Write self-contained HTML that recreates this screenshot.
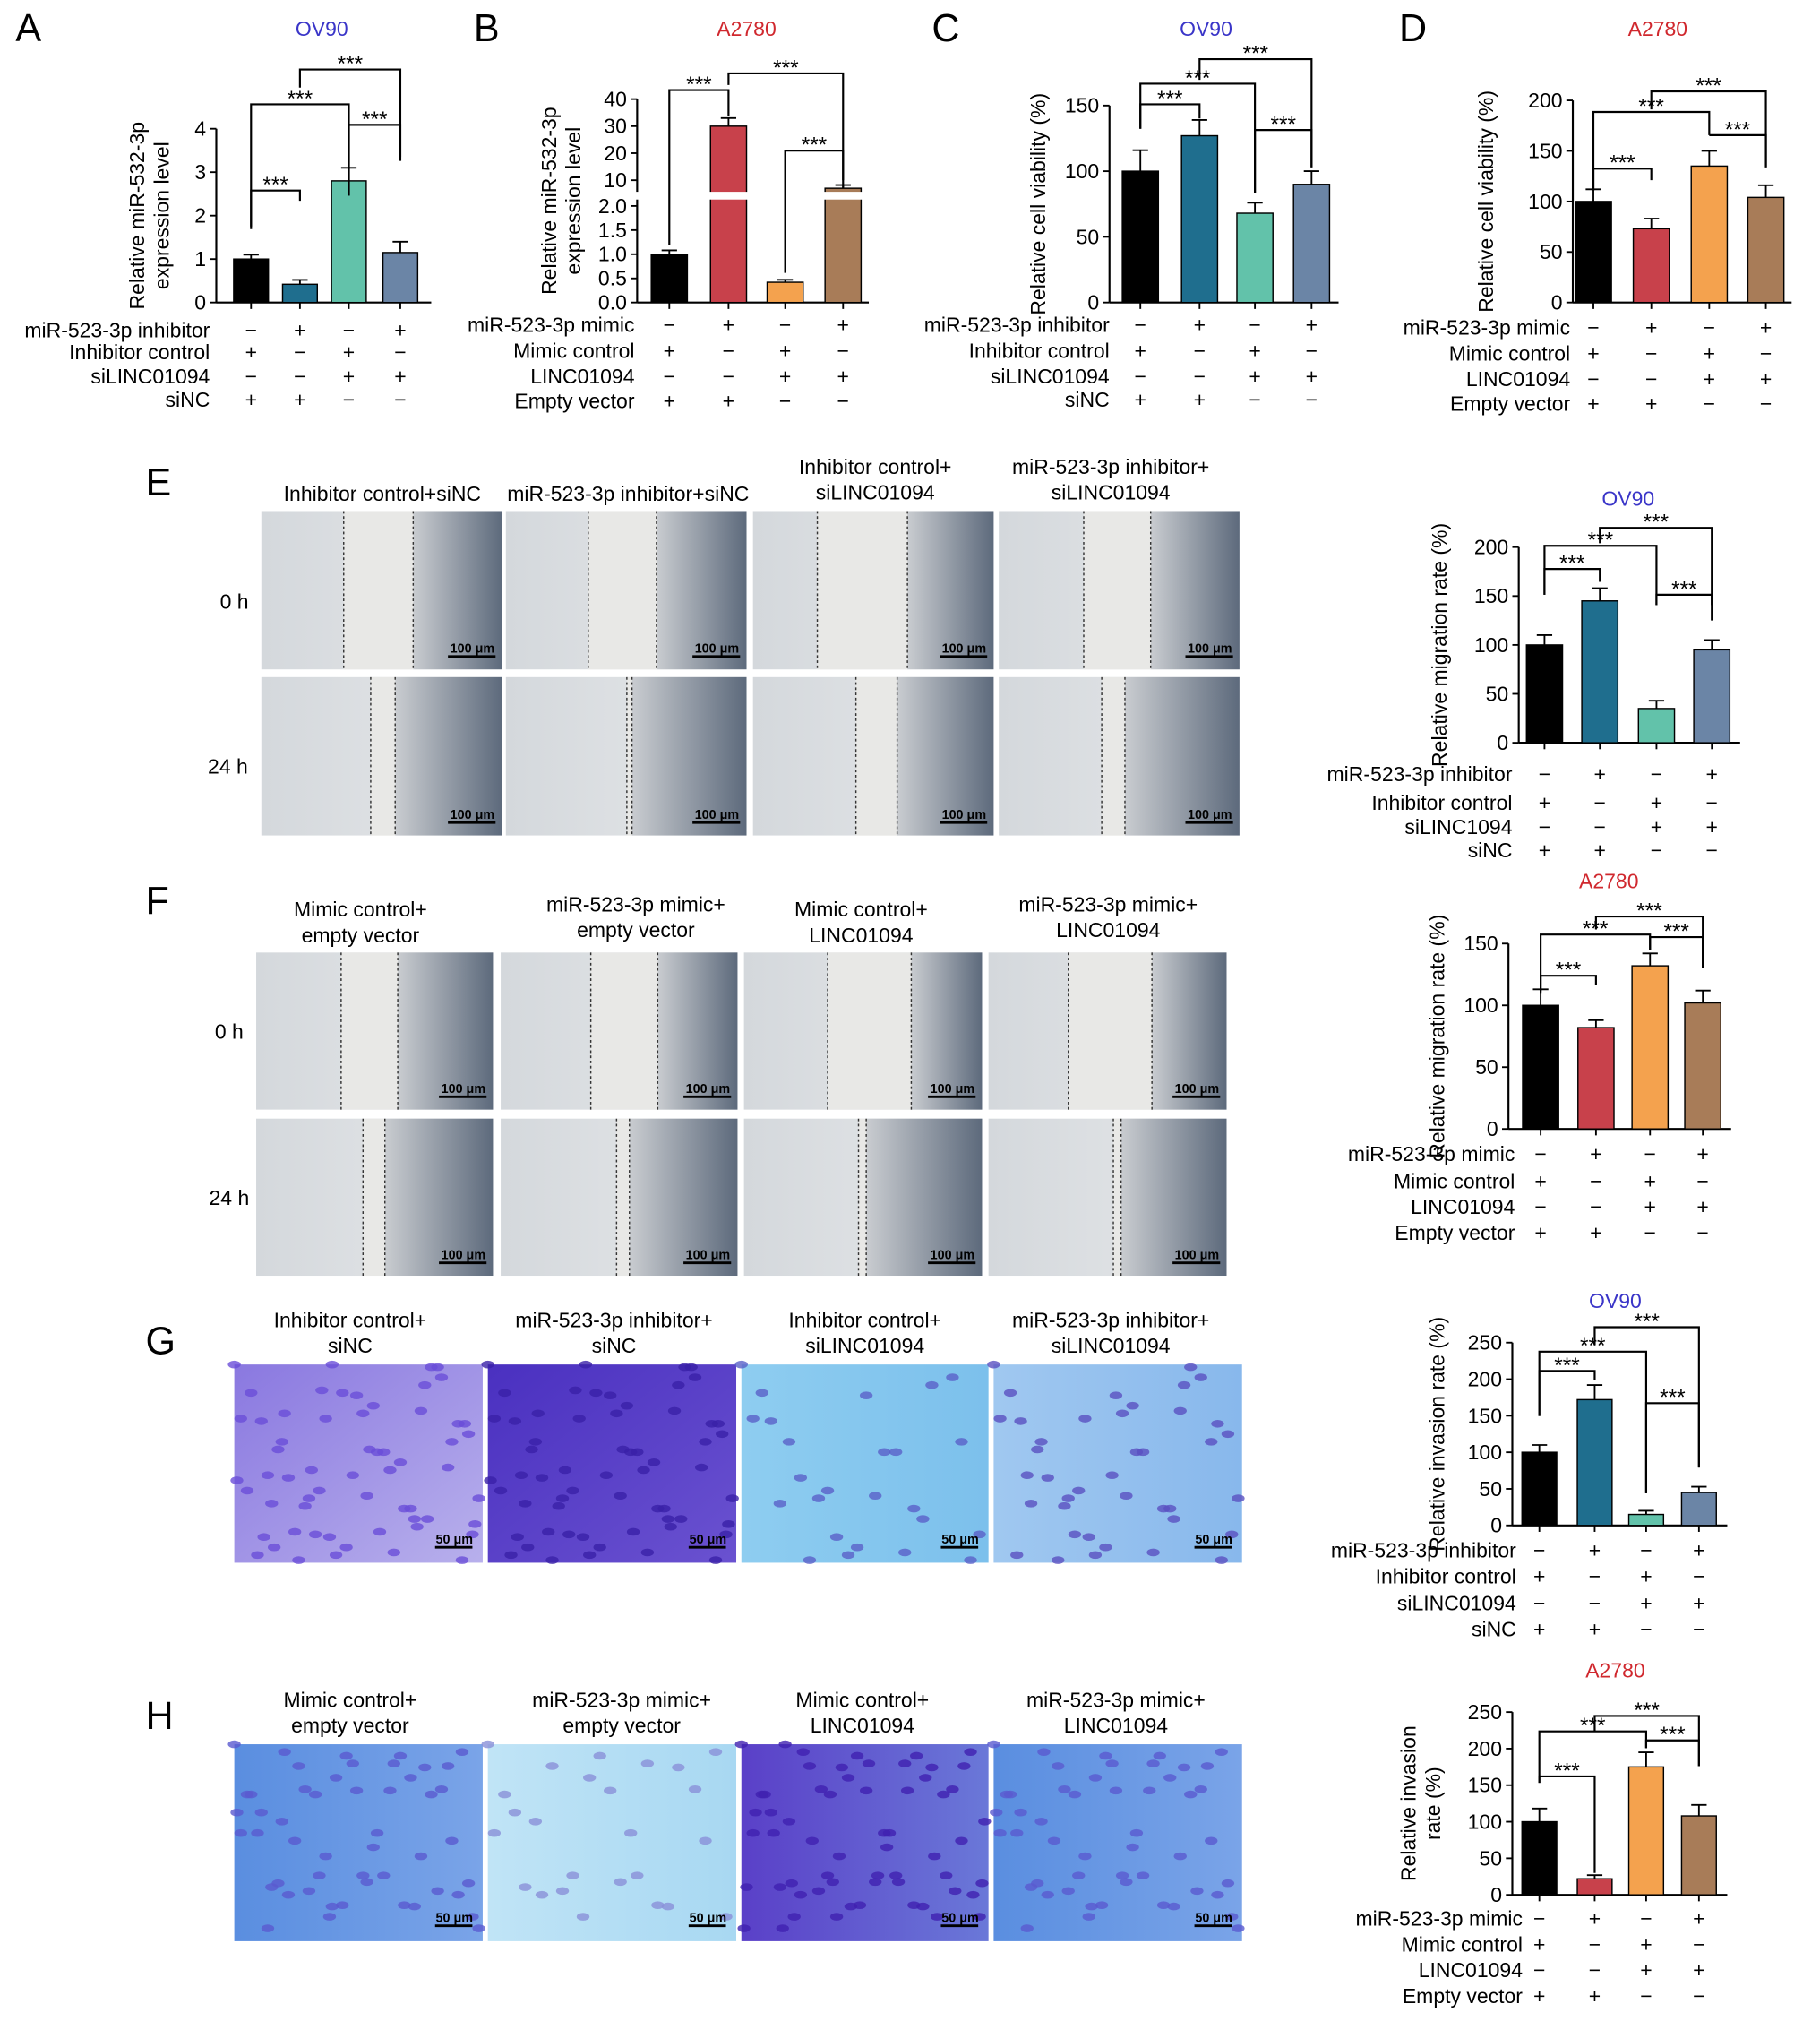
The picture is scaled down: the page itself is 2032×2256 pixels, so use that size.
<!DOCTYPE html>
<html><head><meta charset="utf-8"><style>
html,body{margin:0;padding:0;background:#fff;}
svg{display:block;font-family:"Liberation Sans",Arial,sans-serif;}
</style></head><body>
<svg id="fig" width="2032" height="2256" viewBox="0 0 1414 1570" xmlns="http://www.w3.org/2000/svg">
<defs>
<linearGradient id="gScratchR" x1="0" x2="1"><stop offset="0" stop-color="#c9ccd0"/><stop offset="1" stop-color="#5d6a7c"/></linearGradient>
<linearGradient id="gScratchL" x1="0" x2="1"><stop offset="0" stop-color="#d4d8dc"/><stop offset="1" stop-color="#e6e8ea"/></linearGradient>
<linearGradient id="gPurple" x1="0" x2="1" y1="0" y2="1"><stop offset="0" stop-color="#8a78e0"/><stop offset="1" stop-color="#b8b0ec"/></linearGradient>
<linearGradient id="gDense" x1="0" x2="1" y1="0" y2="1"><stop offset="0" stop-color="#4a30c0"/><stop offset="1" stop-color="#6a52d0"/></linearGradient>
<linearGradient id="gBlue" x1="0" x2="1"><stop offset="0" stop-color="#8ecdf0"/><stop offset="1" stop-color="#7cc0ec"/></linearGradient>
<linearGradient id="gBlue2" x1="0" x2="1"><stop offset="0" stop-color="#a0c8f0"/><stop offset="1" stop-color="#88b8ec"/></linearGradient>
<linearGradient id="gPale" x1="0" x2="1"><stop offset="0" stop-color="#c0e4f6"/><stop offset="1" stop-color="#a8d8f2"/></linearGradient>
<linearGradient id="gBlueP" x1="0" x2="1"><stop offset="0" stop-color="#5a8ee0"/><stop offset="1" stop-color="#7aa4e8"/></linearGradient>
<linearGradient id="gMix" x1="0" x2="1"><stop offset="0" stop-color="#5a40c8"/><stop offset="1" stop-color="#6a78d8"/></linearGradient>
</defs>
<g id="root"></g>
</svg>
<script>
const aCats=["g1","g2","g3","g4"];
const aVals=[1.0,0.42,2.8,1.15];
const aErr=[0.1,0.1,0.3,0.25];
const aTicks=[0,1,2,3,4];
const bVals=[1.0,30,0.42,7.5];
const bErr=[0.08,3,0.05,1.0];
const bTicks=[0.0,0.5,1.0,1.5,2.0,10,20,30,40];
const bTickLabels=["0.0","0.5","1.0","1.5","2.0","10","20","30","40"];
const cVals=[100,127,68,90];
const cErr=[16,12,8,10];
const cTicks=[0,50,100,150];
const dVals=[100,73,135,104];
const dErr=[12,10,15,12];
const dTicks=[0,50,100,150,200];
const eVals=[100,145,35,95];
const eErr=[10,13,8,10];
const eTicks=[0,50,100,150,200];
const fVals=[100,82,132,102];
const fErr=[13,6,10,10];
const fTicks=[0,50,100,150];
const gVals=[100,172,15,45];
const gErr=[10,20,5,8];
const gTicks=[0,50,100,150,200,250];
const hVals=[100,22,175,108];
const hErr=[18,5,20,15];
const hTicks=[0,50,100,150,200,250];
const condInhib=[["miR-523-3p inhibitor",["−","+","−","+"]],["Inhibitor control",["+","−","+","−"]],["siLINC01094",["−","−","+","+"]],["siNC",["+","+","−","−"]]];
const condInhibE=[["miR-523-3p inhibitor",["−","+","−","+"]],["Inhibitor control",["+","−","+","−"]],["siLINC1094",["−","−","+","+"]],["siNC",["+","+","−","−"]]];
const condMimic=[["miR-523-3p mimic",["−","+","−","+"]],["Mimic control",["+","−","+","−"]],["LINC01094",["−","−","+","+"]],["Empty vector",["+","+","−","−"]]];
const colInhib=["#000000","#1f6e8e","#62c2aa","#6b85a6"];
const colMimic=["#000000","#c8414b","#f4a24e","#a87c58"];

const NS="http://www.w3.org/2000/svg";
const root=document.getElementById('root');
function mk(tag,attrs,parent,text){const e=document.createElementNS(NS,tag);for(const k in attrs)e.setAttribute(k,attrs[k]);if(text!==undefined)e.textContent=text;(parent||root).appendChild(e);return e;}

function chart(o){
  const g=mk('g',{});
  
  
  const y=o.scale;
  const t=mk('text',{x:o.titleX,y:o.titleY,'font-size':16,fill:o.titleColor,'text-anchor':'middle'},g,o.title);
  
  
  const top=y(o.ticks[o.ticks.length-1]);
  const ax=mk('line',{x1:o.ax,x2:o.ax,y1:top,y2:o.zero,stroke:'#000','stroke-width':1.5},g);
  
  
  mk('line',{x1:o.ax,x2:o.xEnd,y1:o.zero,y2:o.zero,stroke:'#000','stroke-width':1.5},g);
  o.ticks.forEach((v,i)=>{
    const yy=y(v);
    mk('line',{x1:o.ax-5,x2:o.ax,y1:yy,y2:yy,stroke:'#000','stroke-width':1.3},g);
    const tl=mk('text',{x:o.ax-8,y:yy+5.5,'font-size':16,'text-anchor':'end'},g,o.tickLabels?o.tickLabels[i]:String(v));
    
    
  });
  const yl=mk('text',{transform:`translate(${o.ylx},${(top+o.zero)/2}) rotate(-90)`,'font-size':16,'text-anchor':'middle'},g);
  o.ylabel.forEach((s,i)=>{mk('tspan',{x:0,dy:i?19:0},yl,s);});
  
  
  o.vals.forEach((v,i)=>{
    const cx=o.xs[i],w=o.bw;
    const yt=y(v);
    const b=mk('rect',{x:cx-w/2,y:yt,width:w,height:o.zero-yt,fill:o.colors[i],stroke:'#000','stroke-width':1},g);
    
    
    const ye=y(v+o.err[i]);
    mk('line',{x1:cx,x2:cx,y1:yt,y2:ye,stroke:'#000','stroke-width':1.3},g);
    mk('line',{x1:cx-6,x2:cx+6,y1:ye,y2:ye,stroke:'#000','stroke-width':1.3},g);
    mk('line',{x1:cx,x2:cx,y1:o.zero,y2:o.zero+5,stroke:'#000','stroke-width':1.3},g);
  });
  if(o.gap){mk('rect',{x:o.xs[1]-o.bw/2-1,y:o.gap[0],width:o.bw+2,height:o.gap[1]-o.gap[0],fill:'#fff'},g);
    mk('rect',{x:o.xs[3]-o.bw/2-1,y:o.gap[0],width:o.bw+2,height:o.gap[1]-o.gap[0],fill:'#fff'},g);
    mk('rect',{x:o.ax-3,y:o.gap[0],width:6,height:o.gap[1]-o.gap[0],fill:'#fff'},g);}
  o.brackets.forEach(br=>{
    const [i,j,yt,yi,yj]=br; const xi=o.xs[i],xj=o.xs[j];
    const p=mk('path',{d:`M${xi},${yi}V${yt}H${xj}V${yj}`,fill:'none',stroke:'#000','stroke-width':1.5},g);
    
    
    mk('text',{x:(xi+xj)/2,y:yt+1,'font-size':17,'text-anchor':'middle'},g,'***');
  });
  o.cond.forEach((row,r)=>{
    const yy=o.rows[r];
    const l=mk('text',{x:o.labX,y:yy,'font-size':16,'text-anchor':'end'},g,row[0]);
    
    
    row[1].forEach((s,i)=>{mk('text',{x:o.xs[i],y:yy,'font-size':16,'text-anchor':'middle'},g,s);});
  });
}
function lin(zero,topPx,topVal){return v=>zero-(v/topVal)*(zero-topPx);}

chart({name:'chart-a',title:'OV90',titleX:250,titleY:28,titleColor:'#3a35c8',ax:168,xEnd:335,zero:235,scale:lin(235,100,4),ticks:aTicks,
 vals:aVals,err:aErr,xs:[195,233,271,311],bw:27,colors:colInhib,ylabel:['Relative miR-532-3p','expression level'],ylx:112,
 brackets:[[0,1,148,178,156],[0,2,81,176,152],[2,3,97,152,122],[1,3,54,68,125]],cond:condInhib,rows:[262,279,298,316],labX:163});
const bScale=v=>{const P=[[0,235],[2,160],[10,140],[40,77]];for(let k=1;k<P.length;k++){if(v<=P[k][0]){const[a,ya]=P[k-1],[b,yb]=P[k];return ya+(v-a)/(b-a)*(yb-ya);}}return 77;};
chart({name:'chart-b',title:'A2780',titleX:580,titleY:28,titleColor:'#d0282e',ax:495,xEnd:675,zero:235,scale:bScale,ticks:bTicks,tickLabels:bTickLabels,
 vals:bVals,err:bErr,xs:[520,566,610,655],bw:28,colors:colMimic,ylabel:['Relative miR-532-3p','expression level'],ylx:432,gap:[149,155],
 brackets:[[0,1,70,190,90],[1,3,57,66,140],[2,3,117,212,146]],cond:condMimic,rows:[258,278,298,317],labX:493});
chart({name:'chart-c',title:'OV90',titleX:937,titleY:28,titleColor:'#3a35c8',ax:862,xEnd:1040,zero:235,scale:lin(235,82,150),ticks:cTicks,
 vals:cVals,err:cErr,xs:[886,932,975,1019],bw:28,colors:colInhib,ylabel:['Relative cell viability (%)'],ylx:812,
 brackets:[[0,1,81,100,92],[0,2,65,100,150],[2,3,101,150,130],[1,3,46,62,130]],cond:condInhib,rows:[258,278,298,316],labX:862});
chart({name:'chart-d',title:'A2780',titleX:1288,titleY:28,titleColor:'#d0282e',ax:1222,xEnd:1392,zero:235,scale:lin(235,78,200),ticks:dTicks,
 vals:dVals,err:dErr,xs:[1238,1283,1328,1372],bw:28,colors:colMimic,ylabel:['Relative cell viability (%)'],ylx:1160,
 brackets:[[0,1,131,148,140],[0,2,87,148,105],[2,3,105,105,130],[1,3,71,85,130]],cond:condMimic,rows:[260,280,300,319],labX:1220});
chart({name:'chart-e',title:'OV90',titleX:1265,titleY:393,titleColor:'#3a35c8',ax:1180,xEnd:1352,zero:577,scale:lin(577,425,200),ticks:eTicks,
 vals:eVals,err:eErr,xs:[1200,1243,1287,1330],bw:28,colors:colInhib,ylabel:['Relative migration rate (%)'],ylx:1124,
 brackets:[[0,1,442,462,452],[0,2,424,462,470],[2,3,462,470,482],[1,3,410,422,470]],cond:condInhibE,rows:[607,629,648,666],labX:1175});
chart({name:'chart-f',title:'A2780',titleX:1250,titleY:690,titleColor:'#d0282e',ax:1172,xEnd:1345,zero:877,scale:lin(877,733,150),ticks:fTicks,
 vals:fVals,err:fErr,xs:[1197,1240,1282,1323],bw:28,colors:colMimic,ylabel:['Relative migration rate (%)'],ylx:1122,
 brackets:[[0,1,758,772,765],[0,2,726,770,738],[2,3,728,738,752],[1,3,712,722,752]],cond:condMimic,rows:[902,923,943,963],labX:1177});
chart({name:'chart-g',title:'OV90',titleX:1255,titleY:1016,titleColor:'#3a35c8',ax:1175,xEnd:1342,zero:1185,scale:lin(1185,1043,250),ticks:gTicks,
 vals:gVals,err:gErr,xs:[1196,1239,1279,1320],bw:27,colors:colInhib,ylabel:['Relative invasion rate (%)'],ylx:1122,
 brackets:[[0,1,1065,1100,1072],[0,2,1050,1100,1160],[2,3,1090,1160,1140],[1,3,1031,1045,1140]],cond:condInhib,rows:[1210,1230,1251,1271],labX:1178});
chart({name:'chart-h',title:'A2780',titleX:1255,titleY:1303,titleColor:'#d0282e',ax:1175,xEnd:1342,zero:1472,scale:lin(1472,1330,250),ticks:hTicks,
 vals:hVals,err:hErr,xs:[1196,1239,1279,1320],bw:27,colors:colMimic,ylabel:['Relative invasion','rate (%)'],ylx:1100,
 brackets:[[0,1,1380,1385,1455],[0,2,1345,1385,1358],[2,3,1352,1358,1372],[1,3,1333,1345,1372]],cond:condMimic,rows:[1496,1516,1536,1556],labX:1183});

[['A',12,32],['B',368,32],['C',724,32],['D',1087,32],['E',113,385],['F',113,710],['G',113,1052],['H',113,1343]].forEach(p=>{
  const t=mk('text',{x:p[1],y:p[2],'font-size':30},root,p[0]);
  
  
});

function labelText(x,y,lines){lines.forEach((s,i)=>{const t=mk('text',{x:x,y:y+i*20,'font-size':16,'text-anchor':'middle'},root,s);
  
  });}
function scratch(x,y,w,h,l1,l2){
  const g=mk('g',{});
  
  
  mk('rect',{x:x,y:y,width:w,height:h,fill:'url(#gScratchL)'},g);
  mk('rect',{x:x+l2,y:y,width:w-l2,height:h,fill:'url(#gScratchR)'},g);
  mk('rect',{x:x+l1,y:y,width:l2-l1,height:h,fill:'#e8e8e6'},g);
  mk('line',{x1:x+l1,x2:x+l1,y1:y,y2:y+h,stroke:'#333','stroke-dasharray':'2,2'},g);
  mk('line',{x1:x+l2,x2:x+l2,y1:y,y2:y+h,stroke:'#333','stroke-dasharray':'2,2'},g);
  mk('line',{x1:x+w-42,x2:x+w-5,y1:y+h-10,y2:y+h-10,stroke:'#000','stroke-width':2},g);
  mk('text',{x:x+w-23,y:y+h-13,'font-size':10,'text-anchor':'middle','font-weight':'bold'},g,'100 μm');
}
const eCols=[[203,187],[393,187],[585,187],[776,187]];
const eGaps0=[[64,118],[64,117],[50,120],[66,118]],eGaps24=[[85,104],[94,98],[80,112],[80,98]];
eCols.forEach((c,i)=>{scratch(c[0],397,c[1],123,eGaps0[i][0],eGaps0[i][1]);scratch(c[0],526,c[1],123,eGaps24[i][0],eGaps24[i][1]);});
labelText(297,389,['Inhibitor control+siNC']);labelText(488,389,['miR-523-3p inhibitor+siNC']);
labelText(680,368,['Inhibitor control+','siLINC01094']);labelText(863,368,['miR-523-3p inhibitor+','siLINC01094']);
[['0 h',182,473],['24 h',177,601],['0 h',178,807],['24 h',178,936]].forEach(r=>{const t=mk('text',{x:r[1],y:r[2],'font-size':16,'text-anchor':'middle'},root,r[0]);
  
  });
const fCols=[[199,184],[389,184],[578,185],[768,185]];
const fGaps0=[[66,110],[70,122],[65,130],[62,127]],fGaps24=[[83,100],[90,100],[89,95],[97,103]];
fCols.forEach((c,i)=>{scratch(c[0],740,c[1],122,fGaps0[i][0],fGaps0[i][1]);scratch(c[0],869,c[1],122,fGaps24[i][0],fGaps24[i][1]);});
labelText(280,712,['Mimic control+','empty vector']);labelText(494,708,['miR-523-3p mimic+','empty vector']);
labelText(669,712,['Mimic control+','LINC01094']);labelText(861,708,['miR-523-3p mimic+','LINC01094']);

function invasion(x,y,w,h,fill,dots,dc){
  const g=mk('g',{});
  
  
  mk('rect',{x:x,y:y,width:w,height:h,fill:fill},g);
  for(let k=0;k<dots;k++){const px=x+((k*37)%w),py=y+((k*53+k*k*7)%h);mk('ellipse',{cx:px,cy:py,rx:5,ry:3,fill:dc,opacity:0.8},g);}
  mk('line',{x1:x+w-37,x2:x+w-8,y1:y+h-12,y2:y+h-12,stroke:'#000','stroke-width':2},g);
  mk('text',{x:x+w-22,y:y+h-15,'font-size':10,'text-anchor':'middle','font-weight':'bold'},g,'50 μm');
}
invasion(182,1060,193,154,'url(#gPurple)',60,'#6a4ed8');invasion(379,1060,193,154,'url(#gDense)',60,'#3a20a8');
invasion(576,1060,192,154,'url(#gBlue)',25,'#5a60c8');invasion(772,1060,193,154,'url(#gBlue2)',40,'#5a50c0');
labelText(272,1031,['Inhibitor control+','siNC']);labelText(477,1031,['miR-523-3p inhibitor+','siNC']);
labelText(672,1031,['Inhibitor control+','siLINC01094']);labelText(863,1031,['miR-523-3p inhibitor+','siLINC01094']);
invasion(182,1355,193,153,'url(#gBlueP)',50,'#5a5ad0');invasion(379,1355,193,153,'url(#gPale)',25,'#8a90d8');
invasion(576,1355,192,153,'url(#gMix)',60,'#4020b0');invasion(772,1355,193,153,'url(#gBlueP)',50,'#5a5ad0');
labelText(272,1326,['Mimic control+','empty vector']);labelText(483,1326,['miR-523-3p mimic+','empty vector']);
labelText(670,1326,['Mimic control+','LINC01094']);labelText(867,1326,['miR-523-3p mimic+','LINC01094']);
</script>
</body></html>
